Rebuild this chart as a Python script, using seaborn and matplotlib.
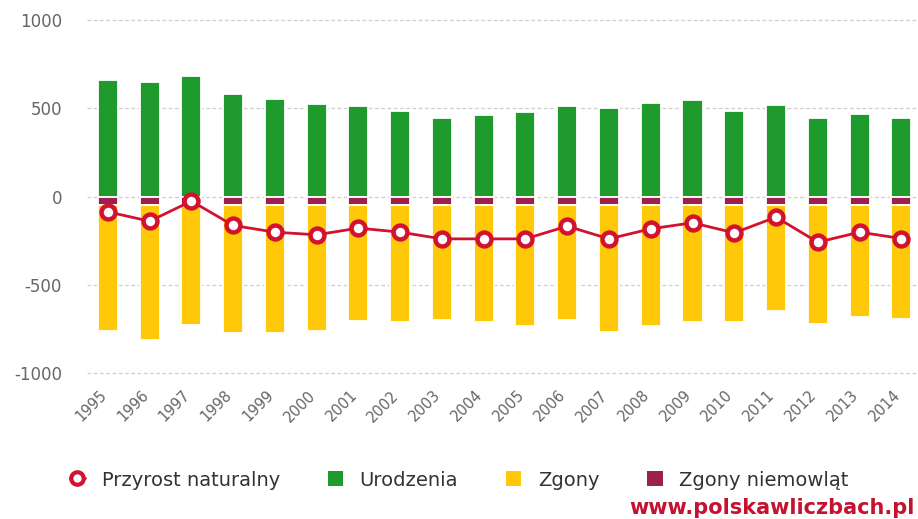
import matplotlib
matplotlib.use("Agg")
import matplotlib.pyplot as plt
import matplotlib.transforms as mtransforms
import seaborn as sns
import pandas as pd
import numpy as np
from matplotlib.lines import Line2D
from matplotlib.patches import Patch

years = [str(y) for y in range(1995, 2015)]
urodzenia = [658, 649, 685, 578, 551, 525, 515, 487, 443, 459,
             477, 514, 502, 528, 549, 485, 521, 442, 468, 442]
zgony = [713, 764, 680, 722, 722, 714, 658, 660, 650, 660,
         684, 652, 716, 684, 662, 662, 597, 671, 631, 643]
zgony_niemowlat = [50, 50, 50, 50, 50, 50, 50, 50, 50, 50,
                   50, 50, 50, 50, 50, 50, 50, 50, 50, 50]
przyrost = [-87, -140, -26, -164, -202, -217, -179, -202, -240, -240,
            -240, -168, -240, -183, -149, -206, -117, -259, -202, -238]

labels = ["Przyrost naturalny", "Urodzenia", "Zgony", "Zgony niemowląt"]
y_ticks = [-1000, -500, 0, 500, 1000]
c_line = "#d2122e"
c_green = "#1f9a2c"
c_yellow = "#ffc90a"
c_maroon = "#9c1f4e"
c_text = "#666666"

df = pd.DataFrame({
    "rok": years,
    "urodzenia": urodzenia,
    "zgony": zgony,
    "niem": zgony_niemowlat,
    "przyrost": przyrost,
})
df["niem_neg"] = -df["niem"]
df["zgony_neg"] = -df["zgony"]

sns.set_style("white")
plt.rcParams["font.family"] = ["DejaVu Sans"]

fig = plt.figure(figsize=(9.18, 5.19), dpi=100)
W, H = 918, 519
ax = fig.add_axes([87 / W, 1 - 373 / H, (918 - 87) / W, (373 - 20) / H])

bw = 0.48
sns.barplot(data=df, x="rok", y="urodzenia", color=c_green, width=bw,
            edgecolor="white", linewidth=1.3, saturation=1, ax=ax, zorder=2)
sns.barplot(data=df, x="rok", y="niem_neg", color=c_maroon, width=bw,
            edgecolor="white", linewidth=1.3, saturation=1, ax=ax, zorder=2)
sns.barplot(data=df, x="rok", y="zgony_neg", bottom=df["niem_neg"].values,
            color=c_yellow, width=bw, edgecolor="white", linewidth=1.3,
            saturation=1, ax=ax, zorder=2)
sns.pointplot(data=df, x="rok", y="przyrost", color=c_line, ax=ax,
              markers="o", linewidth=2.0, markersize=10,
              markerfacecolor="white", markeredgecolor=c_line,
              markeredgewidth=3.2, zorder=5)

ax.set_ylim(-1000, 1000)
ax.set_xlim(-0.5, 19.4)
ax.set_yticks(y_ticks)
ax.set_yticklabels([str(v) for v in y_ticks])
for yv in y_ticks:
    ax.axhline(yv, color="#cfcfcf", linewidth=0.9, linestyle=(0, (3, 2)),
               zorder=1, clip_on=False)
ax.tick_params(axis="y", length=0, pad=18, labelsize=12, labelcolor=c_text)
ax.tick_params(axis="x", length=0, pad=4, labelsize=10.5, labelcolor=c_text)
offset = mtransforms.ScaledTranslation(-9 / 100, -9 / 100, fig.dpi_scale_trans)
for lab in ax.get_xticklabels():
    lab.set_rotation(45)
    lab.set_ha("right")
    lab.set_rotation_mode("anchor")
    lab.set_transform(lab.get_transform() + offset)
ax.set_xlabel("")
ax.set_ylabel("")
for s in ax.spines.values():
    s.set_visible(False)

handles = [
    Line2D([0], [0], color=c_line, linewidth=2.0, marker="o", markersize=9,
           markerfacecolor="white", markeredgecolor=c_line, markeredgewidth=3),
    Patch(facecolor=c_green, edgecolor="none"),
    Patch(facecolor=c_yellow, edgecolor="none"),
    Patch(facecolor=c_maroon, edgecolor="none"),
]
fig.legend(handles, labels, loc="center", bbox_to_anchor=(459 / W, 1 - 480 / H),
           ncol=4, frameon=False, fontsize=14, labelcolor="#333333",
           handlelength=0.8, handleheight=0.8, handletextpad=0.85,
           columnspacing=2.45)

fig.text(915 / W, 1 - 508 / H, "www.polskawliczbach.pl", color="#c4122f",
         fontsize=15, fontweight="bold", ha="right", va="center")

fig.savefig("out.png", dpi=100)
